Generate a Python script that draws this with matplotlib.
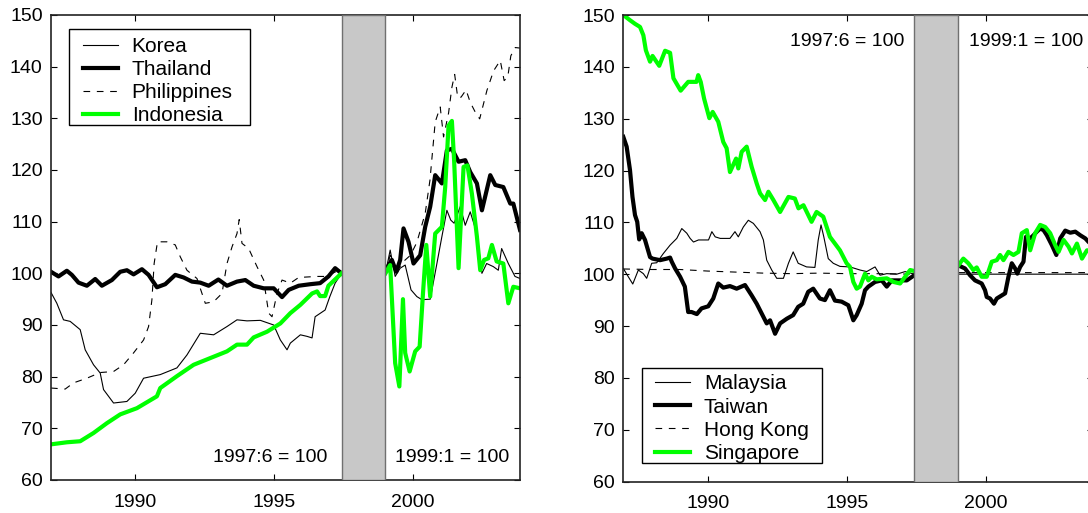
import numpy as np
import matplotlib
matplotlib.use('Agg')
import matplotlib.pyplot as plt
from matplotlib.patches import Rectangle

plt.rcParams['font.family'] = 'Liberation Sans'
plt.rcParams['font.size'] = 14

nan = np.nan
GREEN = '#00ff00'

# real exchange rates, monthly; index 1997:6 = 100 before the gap, 1999:1 = 100 after it
# (nan marks the break over the crisis period)

# ---- left panel ----
korea_yr = [1986.97, 1987.18, 1987.42, 1987.66, 1988.02, 1988.2, 1988.5, 1988.74, 1988.86, 1989.22,
            1989.7, 1990.0, 1990.3, 1990.9, 1991.5, 1991.86, 1992.34, 1992.82, 1993.3, 1993.66,
            1994.02, 1994.5, 1994.98, 1995.22, 1995.46, 1995.58, 1995.94, 1996.18, 1996.36, 1996.47,
            1996.83, 1997.0, 1997.19, 1997.42, nan,
            1999.0, 1999.17, 1999.35, 1999.53, 1999.71, 1999.92, 2000.13, 2000.31, 2000.61, 2000.83,
            2001.03, 2001.21, 2001.35, 2001.47, 2001.69, 2001.87, 2002.05, 2002.29, 2002.47, 2002.64,
            2002.88, 2003.06, 2003.18, 2003.42, 2003.66, 2003.84]
korea_val = [96.3, 94.2, 91.0, 90.7, 89.1, 85.2, 82.3, 80.7, 77.5, 74.9,
             75.2, 76.8, 79.7, 80.4, 81.7, 84.2, 88.4, 88.1, 89.7, 91.0,
             90.8, 90.9, 90.0, 87.1, 85.2, 86.5, 88.1, 87.8, 87.5, 91.6,
             92.9, 95.5, 98.1, 100.0, nan,
             100.0, 104.5, 99.4, 101.0, 101.6, 96.8, 95.5, 94.9, 95.0, 101.3,
             107.1, 112.2, 110.3, 109.7, 112.9, 109.3, 111.9, 107.7, 100.0, 101.9,
             101.3, 100.6, 104.8, 101.9, 99.4, 99.0]

thailand_yr = [1986.97, 1987.24, 1987.54, 1987.72, 1987.96, 1988.26, 1988.56, 1988.8, 1989.16, 1989.46,
               1989.7, 1989.94, 1990.24, 1990.48, 1990.78, 1991.08, 1991.44, 1991.74, 1992.04, 1992.34,
               1992.64, 1992.99, 1993.3, 1993.66, 1993.96, 1994.26, 1994.62, 1994.98, 1995.28, 1995.52,
               1995.88, 1996.3, 1996.65, 1996.95, 1997.19, 1997.42, nan,
               1999.0, 1999.23, 1999.39, 1999.53, 1999.65, 1999.83, 2000.01, 2000.25, 2000.43, 2000.61,
               2000.79, 2001.03, 2001.21, 2001.39, 2001.63, 2001.87, 2002.05, 2002.29, 2002.47, 2002.77,
               2002.95, 2003.24, 2003.49, 2003.6, 2003.84]
thailand_val = [100.3, 99.4, 100.5, 99.7, 98.2, 97.6, 98.9, 97.6, 98.7, 100.3,
                100.6, 99.8, 100.8, 99.7, 97.3, 97.9, 99.7, 99.2, 98.4, 98.2,
                97.6, 98.8, 97.6, 98.4, 98.7, 97.6, 97.1, 97.1, 95.4, 96.8,
                97.6, 97.9, 98.1, 99.4, 101.0, 100.0, nan,
                100.6, 102.6, 100.3, 102.6, 108.7, 106.1, 101.9, 103.5, 109.0, 112.9,
                119.0, 117.4, 123.8, 124.1, 121.6, 121.9, 119.6, 117.4, 112.2, 119.0,
                117.1, 116.7, 113.5, 113.5, 108.4]

philippines_yr = [1986.97, 1987.48, 1987.78, 1988.26, 1988.74, 1989.22, 1989.58, 1989.94, 1990.3, 1990.48,
                  1990.6, 1990.68, 1990.8, 1991.14, 1991.44, 1991.62, 1991.86, 1992.22, 1992.52, 1992.82,
                  1993.12, 1993.3, 1993.48, 1993.66, 1993.74, 1993.84, 1994.08, 1994.38, 1994.62, 1994.8,
                  1994.92, 1995.1, 1995.28, 1995.58, 1995.88, 1996.53, 1996.9, 1997.2, 1997.42, nan,
                  1999.0, 1999.17, 1999.35, 1999.65, 1999.9, 2000.13, 2000.43, 2000.6, 2000.73, 2000.79,
                  2000.97, 2001.09, 2001.27, 2001.39, 2001.49, 2001.6, 2001.72, 2001.9, 2002.05, 2002.25,
                  2002.39, 2002.65, 2002.89, 2003.13, 2003.27, 2003.4, 2003.51, 2003.67, 2003.84]
philippines_val = [77.8, 77.6, 78.8, 79.7, 80.8, 81.0, 82.3, 84.6, 87.1, 89.7,
                   94.9, 101.9, 106.1, 106.1, 105.5, 103.2, 100.6, 99.0, 94.2, 94.5,
                   96.1, 101.9, 105.1, 107.7, 110.4, 105.8, 104.8, 101.3, 98.7, 92.3,
                   91.6, 96.1, 98.7, 98.1, 99.2, 99.4, 99.4, 100.3, 100.0, nan,
                   100.0, 103.5, 100.0, 102.3, 103.5, 106.0, 111.6, 118.0, 125.7, 129.3,
                   132.2, 126.4, 131.0, 136.0, 138.5, 134.0, 134.1, 135.5, 133.1, 131.0,
                   129.9, 135.4, 139.2, 141.2, 137.3, 138.0, 142.1, 143.7, 143.6]

indonesia_yr = [1986.97, 1987.54, 1988.02, 1988.5, 1988.98, 1989.46, 1990.06, 1990.78, 1990.9, 1991.5,
                1992.1, 1992.7, 1993.3, 1993.66, 1994.02, 1994.26, 1994.74, 1995.22, 1995.58, 1995.94,
                1996.36, 1996.54, 1996.65, 1996.83, 1996.95, 1997.42, nan,
                1999.0, 1999.17, 1999.35, 1999.5, 1999.63, 1999.71, 1999.87, 2000.07, 2000.23, 2000.35,
                2000.47, 2000.61, 2000.79, 2001.03, 2001.15, 2001.27, 2001.39, 2001.47, 2001.63, 2001.81,
                2001.95, 2002.11, 2002.29, 2002.41, 2002.55, 2002.7, 2002.83, 2003.0, 2003.24, 2003.42,
                2003.6, 2003.84]
indonesia_val = [66.9, 67.3, 67.5, 69.1, 71.0, 72.7, 73.9, 76.2, 77.8, 80.1,
                 82.3, 83.6, 84.9, 86.2, 86.2, 87.6, 88.7, 90.3, 92.3, 93.9,
                 96.1, 96.5, 95.6, 95.6, 97.6, 100.0, nan,
                 100.0, 101.6, 82.6, 78.1, 95.0, 84.6, 81.0, 84.9, 85.8, 96.1,
                 105.5, 95.5, 107.7, 109.0, 116.7, 128.6, 129.5, 121.9, 101.0, 120.6,
                 120.9, 115.4, 107.1, 100.6, 102.6, 102.9, 105.5, 102.3, 101.9, 94.2,
                 97.4, 97.1]

# ---- right panel ----
malaysia_yr = [1986.97, 1987.15, 1987.31, 1987.51, 1987.69, 1987.81, 1987.99, 1988.17, 1988.41, 1988.65,
               1988.89, 1989.07, 1989.25, 1989.37, 1989.49, 1989.67, 1990.03, 1990.15, 1990.27, 1990.45,
               1990.8, 1990.98, 1991.1, 1991.28, 1991.46, 1991.64, 1991.88, 1992.0, 1992.12, 1992.3,
               1992.48, 1992.72, 1992.9, 1993.07, 1993.25, 1993.55, 1993.85, 1993.97, 1994.07, 1994.17,
               1994.33, 1994.51, 1994.75, 1995.11, 1995.47, 1995.71, 1996.01, 1996.19, 1996.43, 1996.79,
               1997.09, 1997.42, nan, 1999.0, 2003.84]
malaysia_val = [101.1, 99.5, 98.1, 100.8, 100.1, 99.2, 102.1, 102.2, 104.0, 105.6,
                106.9, 108.8, 107.9, 106.9, 106.2, 106.6, 106.6, 108.2, 107.2, 106.9,
                106.9, 108.2, 107.2, 109.1, 110.4, 109.8, 108.2, 106.6, 102.7, 100.8,
                99.2, 99.2, 102.1, 104.3, 102.1, 101.4, 101.3, 106.6, 109.5, 107.2,
                103.0, 102.1, 101.5, 101.4, 100.8, 100.5, 101.4, 99.8, 100.1, 100.0,
                100.5, 100.0, nan, 100.0, 100.0]

taiwan_yr = [1986.97, 1987.09, 1987.21, 1987.3, 1987.39, 1987.47, 1987.54, 1987.63, 1987.75, 1987.93,
             1988.02, 1988.29, 1988.53, 1988.65, 1988.71, 1988.83, 1989.01, 1989.18, 1989.3, 1989.42,
             1989.61, 1989.78, 1990.02, 1990.2, 1990.38, 1990.56, 1990.8, 1991.04, 1991.34, 1991.58,
             1991.76, 1991.94, 1992.12, 1992.24, 1992.42, 1992.6, 1992.84, 1993.07, 1993.25, 1993.43,
             1993.61, 1993.79, 1994.03, 1994.21, 1994.39, 1994.57, 1994.81, 1995.05, 1995.23, 1995.35,
             1995.53, 1995.65, 1995.77, 1996.01, 1996.25, 1996.43, 1996.61, 1996.91, 1997.15, 1997.42, nan,
             1999.0, 1999.24, 1999.42, 1999.6, 1999.84, 1999.96, 2000.02, 2000.14, 2000.28, 2000.38,
             2000.56, 2000.68, 2000.8, 2000.92, 2001.04, 2001.12, 2001.22, 2001.34, 2001.43, 2001.58,
             2001.7, 2001.82, 2001.94, 2002.06, 2002.18, 2002.36, 2002.52, 2002.66, 2002.84, 2003.02,
             2003.2, 2003.38, 2003.56, 2003.68, 2003.84]
taiwan_val = [126.5, 124.6, 120.1, 114.9, 111.4, 110.1, 106.7, 107.9, 106.6, 103.3,
              103.0, 102.7, 103.0, 103.2, 102.4, 101.1, 99.5, 97.6, 92.7, 92.7,
              92.3, 93.4, 93.8, 95.3, 98.2, 97.4, 97.7, 97.2, 97.9, 95.9,
              94.3, 92.4, 90.5, 91.1, 88.5, 90.5, 91.4, 92.1, 93.7, 94.3,
              96.6, 97.2, 95.3, 95.0, 96.9, 94.9, 94.7, 94.0, 91.1, 92.1,
              94.3, 96.9, 97.6, 98.5, 98.8, 97.6, 98.8, 98.8, 98.8, 99.8, nan,
              101.7, 101.1, 99.8, 98.8, 98.2, 96.9, 95.6, 95.3, 94.3, 95.3,
              95.9, 96.3, 99.5, 102.1, 101.1, 100.1, 101.4, 102.4, 107.2, 106.9,
              107.5, 108.2, 108.8, 108.5, 107.5, 105.6, 103.7, 106.9, 108.4, 108.0,
              108.2, 107.5, 106.9, 106.2, 105.5]

hongkong_yr = [1986.97, 1988.0, 1989.0, 1990.0, 1991.0, 1992.0, 1993.0, 1994.0, 1995.0, 1996.0,
               1997.42, nan, 1999.0, 2003.84]
hongkong_val = [101.0, 100.9, 100.9, 100.6, 100.4, 100.2, 100.1, 100.2, 100.1, 100.1,
                100.0, nan, 100.3, 100.3]

singapore_yr = [1986.97, 1987.21, 1987.39, 1987.57, 1987.69, 1987.78, 1987.93, 1988.02, 1988.26, 1988.47,
                1988.65, 1988.77, 1989.03, 1989.3, 1989.6, 1989.66, 1989.75, 1989.87, 1990.06, 1990.18,
                1990.38, 1990.56, 1990.68, 1990.8, 1991.02, 1991.1, 1991.22, 1991.4, 1991.58, 1991.76,
                1991.88, 1992.06, 1992.18, 1992.36, 1992.6, 1992.9, 1993.13, 1993.26, 1993.44, 1993.73,
                1993.91, 1994.15, 1994.39, 1994.75, 1994.99, 1995.11, 1995.23, 1995.35, 1995.47, 1995.65,
                1995.77, 1995.89, 1996.07, 1996.43, 1996.67, 1996.91, 1997.09, 1997.27, 1997.42, nan,
                1999.0, 1999.18, 1999.36, 1999.54, 1999.66, 1999.84, 2000.02, 2000.2, 2000.38, 2000.5,
                2000.62, 2000.8, 2000.98, 2001.16, 2001.28, 2001.46, 2001.58, 2001.76, 2001.94, 2002.12,
                2002.3, 2002.48, 2002.6, 2002.78, 2002.96, 2003.08, 2003.26, 2003.44, 2003.62, 2003.84]
singapore_val = [150.0, 149.0, 148.3, 147.7, 146.1, 143.2, 141.0, 142.1, 140.2, 143.1,
                 142.7, 137.8, 135.4, 137.1, 137.1, 138.4, 137.1, 133.9, 130.1, 131.3,
                 129.4, 125.5, 124.3, 119.7, 122.3, 120.4, 123.6, 124.6, 120.7, 117.5,
                 115.6, 114.3, 115.9, 114.3, 112.0, 114.9, 114.6, 112.7, 113.3, 110.1,
                 112.0, 111.1, 107.2, 104.6, 102.1, 101.4, 98.5, 97.2, 97.6, 100.1,
                 98.8, 99.5, 99.0, 99.2, 98.5, 98.2, 99.5, 100.8, 100.6, nan,
                 101.7, 103.0, 102.1, 100.8, 101.3, 99.5, 99.5, 102.4, 102.7, 103.7,
                 102.7, 104.3, 103.7, 104.3, 107.9, 108.5, 104.6, 107.9, 109.5, 109.1,
                 107.9, 105.6, 104.3, 106.6, 105.3, 104.0, 105.9, 103.0, 104.6, 104.5]

gap_start, gap_end = 1997.42, 1999.0
xlim = (1986.97, 2003.84)
yticks = [60, 70, 80, 90, 100, 110, 120, 130, 140, 150]
xticks = [1990, 1995, 2000]

thin = dict(color='black', lw=0.8)
thick = dict(color='black', lw=3.0)
dashed = dict(color='black', lw=0.8, linestyle=(0, (6, 6)))
green = dict(color=GREEN, lw=3.0)

fig = plt.figure(figsize=(10.88, 5.13), dpi=100)
ax1 = fig.add_axes([51 / 1088, 33 / 513, 469 / 1088, 465 / 513])
ax2 = fig.add_axes([623.3 / 1088, 31.5 / 513, 469.8 / 1088, 466.5 / 513])

for ax in (ax1, ax2):
    ax.set_xlim(*xlim)
    ax.set_ylim(60, 150)
    ax.set_yticks(yticks)
    ax.set_xticks(xticks)
    ax.tick_params(direction='in', length=4, width=0.8, top=True, right=True, labelsize=14)
    ax.tick_params(axis='y', pad=6)
    ax.tick_params(axis='x', pad=10)
    for sp in ax.spines.values():
        sp.set_linewidth(1.2)
        sp.set_color('#222222')
    ax.axvspan(gap_start, gap_end, facecolor='#c8c8c8', edgecolor='#707070', lw=1.0, zorder=3)

ax1.plot(korea_yr, korea_val, label='Korea', **thin)
ax1.plot(thailand_yr, thailand_val, label='Thailand', **thick)
ax1.plot(philippines_yr, philippines_val, label='Philippines', **dashed)
ax1.plot(indonesia_yr, indonesia_val, label='Indonesia', **green)

ax2.plot(malaysia_yr, malaysia_val, label='Malaysia', **thin)
ax2.plot(taiwan_yr, taiwan_val, label='Taiwan', **thick)
ax2.plot(hongkong_yr, hongkong_val, label='Hong Kong', **dashed)
ax2.plot(singapore_yr, singapore_val, label='Singapore', **green)

# legend boxes drawn separately so the padding around the entries can be set freely
leg_kw = dict(fontsize=15, frameon=False, borderaxespad=0, borderpad=0,
              labelspacing=0.2, handlelength=1.68, handletextpad=0.66)
ax1.add_patch(Rectangle((0.0384, 0.7634), 0.3859, 0.2065, transform=ax1.transAxes,
                        facecolor='white', edgecolor='black', lw=1.0, zorder=4))
ax2.add_patch(Rectangle((0.0392, 0.0403), 0.3844, 0.2024, transform=ax2.transAxes,
                        facecolor='white', edgecolor='black', lw=1.0, zorder=4))
l1 = ax1.legend(loc='upper left', bbox_to_anchor=(0.0682, 0.953), **leg_kw)
l2 = ax2.legend(loc='upper left', bbox_to_anchor=(0.0675, 0.2295), **leg_kw)
for leg in (l1, l2):
    leg.set_zorder(5)

ax1.text(1996.9, 64.4, '1997:6 = 100', ha='right', va='center', fontsize=14)
ax1.text(1999.35, 64.4, '1999:1 = 100', ha='left', va='center', fontsize=14)
ax2.text(1997.05, 144.8, '1997:6 = 100', ha='right', va='center', fontsize=14)
ax2.text(1999.39, 144.8, '1999:1 = 100', ha='left', va='center', fontsize=14)

fig.savefig('out.png', dpi=100)
